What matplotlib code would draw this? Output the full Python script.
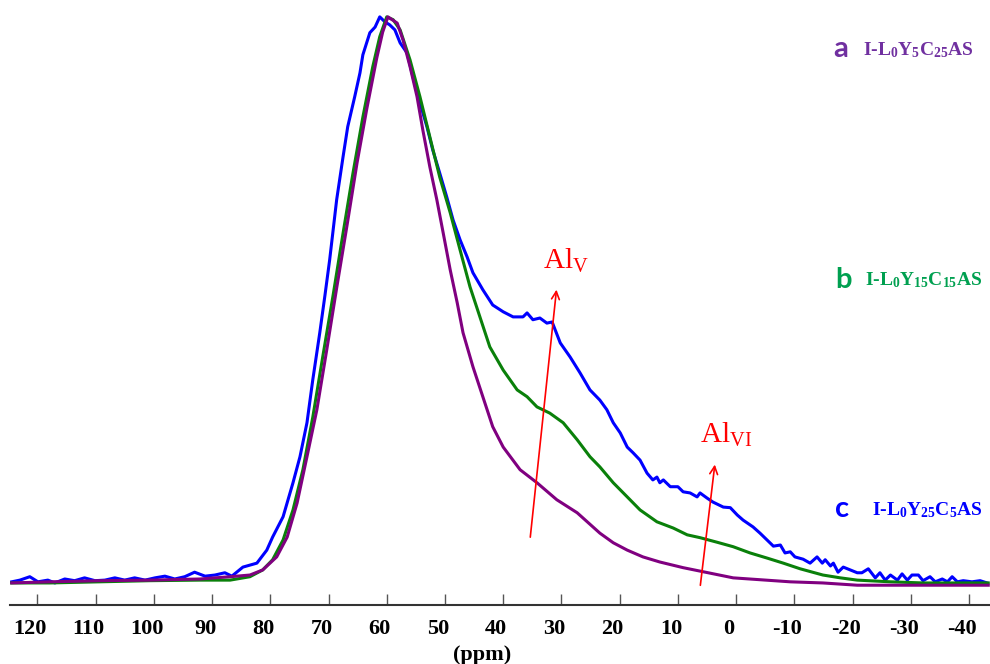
import numpy as np
import matplotlib
matplotlib.use("Agg")
import matplotlib.pyplot as plt
import matplotlib.transforms as mtransforms

# 27Al NMR spectra (ppm, normalised intensity %)
# c: I-L0Y25C5AS (blue)
ppm_c = [124.4, 123.0, 121.3, 119.9, 118.2, 117.0, 115.3, 113.6, 111.9, 110.1,
         108.4, 106.7, 105.0, 103.3, 101.5, 99.8, 98.1, 96.4, 94.7, 93.0,
         91.2, 89.5, 87.8, 86.6, 84.7, 82.3, 80.6, 79.6, 77.8, 76.1,
         74.9, 73.7, 72.7, 71.5, 70.6, 69.8, 68.6, 67.5, 66.7, 65.5,
         64.6, 64.1, 62.9, 62.0, 61.2, 60.3, 59.5, 58.6, 57.7, 56.5,
         55.5, 54.3, 53.1, 52.1, 50.9, 49.7, 48.6, 47.4, 46.2, 45.2,
         43.5, 41.8, 40.0, 38.3, 36.6, 35.9, 34.9, 33.7, 32.5, 31.6,
         30.2, 28.5, 26.8, 25.1,
         23.4, 22.2, 21.1, 19.9, 18.7, 17.7, 16.5, 15.3, 14.3, 13.6,
         13.1, 12.5, 11.3, 10.0, 9.1, 7.9, 6.7, 6.2, 5.0, 4.0,
         2.2, 1.0, -0.2, -1.2, -2.9, -4.1, -5.3, -6.4, -7.6, -8.4,
         -9.3, -10.1, -11.5, -12.7, -13.9, -14.8, -15.3, -16.2, -16.7, -17.5,
         -18.4, -19.6, -20.8, -21.6, -22.7, -23.9, -24.7, -25.6, -26.5, -27.7,
         -28.5, -29.4, -30.2, -31.3, -32.1, -33.3, -34.2, -35.4, -36.3, -37.1,
         -38.0, -39.0, -40.5, -41.9, -43.1]
int_c = [0.2, 0.5, 1.1, 0.2, 0.5, 0.0, 0.7, 0.4, 0.9, 0.4,
         0.5, 0.9, 0.5, 0.9, 0.5, 0.9, 1.2, 0.7, 1.1, 1.9,
         1.2, 1.4, 1.8, 1.2, 2.8, 3.5, 5.8, 8.1, 11.7, 17.7,
         22.3, 28.3, 35.9, 44.2, 50.9, 57.1, 67.7, 75.3, 80.6, 85.9,
         90.1, 93.3, 97.2, 98.2, 100.0, 99.1, 98.6, 97.7, 95.4, 93.6,
         89.4, 84.8, 80.6, 76.5, 72.4, 68.2, 64.1, 60.6, 57.6, 54.8,
         51.8, 49.1, 47.9, 47.0, 47.0, 47.7, 46.5, 46.8, 45.9, 46.1,
         42.4, 39.9, 37.1, 34.1,
         32.3, 30.6, 28.3, 26.5, 24.0, 23.0, 21.7, 19.4, 18.2, 18.7,
         17.7, 18.2, 17.0, 17.0, 16.1, 15.9, 15.2, 15.9, 15.0, 14.3,
         13.4, 13.3, 12.0, 11.1, 9.9, 8.8, 7.6, 6.5, 6.7, 5.3,
         5.5, 4.6, 4.2, 3.5, 4.6, 3.5, 4.1, 3.0, 3.5, 1.9,
         2.8, 2.3, 1.8, 1.8, 2.5, 0.9, 1.8, 0.5, 1.4, 0.5,
         1.6, 0.5, 1.4, 1.4, 0.4, 1.1, 0.2, 0.7, 0.2, 1.1,
         0.2, 0.4, 0.2, 0.4, 0.0]

# b: I-L0Y15C15AS (green)
ppm_b = [124.4, 117.9, 109.3, 100.7, 92.1, 86.9, 83.5, 81.3, 79.6, 77.8,
         76.1, 74.4, 72.7, 71.0, 69.2, 67.5, 65.8, 64.1, 62.4, 61.2,
         60.0, 58.9, 57.7, 56.0, 54.3, 52.6, 50.9, 49.1, 47.4, 45.7,
         44.0, 42.3, 40.0, 37.6, 35.9, 34.2, 32.0, 29.7, 27.3, 25.1,
         23.4, 21.1, 18.7, 16.5, 13.6, 10.8, 8.4, 6.2, 3.3, 0.5,
         -2.4, -5.3, -8.1, -11.0, -14.9, -17.9, -20.8, -26.5, -32.1, -43.3]
int_b = [0.0, 0.0, 0.2, 0.4, 0.5, 0.5, 1.1, 2.3, 4.1, 7.6,
         12.9, 20.0, 29.3, 39.9, 50.9, 61.8, 72.4, 82.3, 91.2, 96.5,
         100.0, 99.5, 97.7, 92.4, 85.9, 78.8, 71.7, 65.4, 58.8, 52.3,
         47.0, 41.7, 37.6, 34.1, 32.9, 31.1, 30.0, 28.3, 25.3, 22.3,
         20.5, 17.7, 15.2, 12.9, 10.8, 9.7, 8.5, 8.0, 7.2, 6.4,
         5.3, 4.4, 3.5, 2.5, 1.4, 0.9, 0.5, 0.2, 0.0, 0.0]

# a: I-L0Y5C25AS (purple)
ppm_a = [124.4, 117.9, 109.3, 100.7, 92.1, 86.9, 83.5, 81.3, 78.9, 77.1,
         75.4, 73.7, 72.0, 70.3, 68.6, 66.8, 65.1, 63.4, 61.7, 60.7,
         59.8, 58.2, 57.2, 56.0, 54.8, 53.8, 52.6, 51.4, 50.3, 49.1,
         47.9, 46.9, 45.2, 43.5, 41.8, 40.0, 37.1, 34.2, 30.8, 27.3,
         23.4, 21.1, 18.7, 16.0, 13.1, 9.1, 0.5, -9.3, -14.9, -20.8,
         -43.3]
int_a = [0.0, 0.2, 0.4, 0.5, 0.7, 1.1, 1.4, 2.3, 4.6, 8.1,
         14.1, 22.3, 30.6, 41.2, 52.1, 63.3, 74.2, 83.9, 92.8, 97.3,
         100.0, 98.9, 95.9, 91.2, 85.9, 80.0, 73.5, 67.7, 61.8, 55.3,
         49.5, 44.2, 38.2, 32.9, 27.6, 24.0, 20.0, 17.7, 14.7, 12.4,
         8.8, 7.1, 5.8, 4.6, 3.7, 2.7, 0.9, 0.2, 0.0, -0.4,
         -0.4]

xticks = [120, 110, 100, 90, 80, 70, 60, 50, 40, 30, 20, 10, 0, -10, -20, -30, -40]

plt.rcParams['mathtext.default'] = 'regular'

fig = plt.figure(figsize=(9.9, 6.64), dpi=100)
ax = fig.add_axes([0.0101, 0.0889, 0.9899, 0.9036])

ax.plot(ppm_c, int_c, color='#0000ff', lw=2.2)
ax.plot(ppm_b, int_b, color='#0a800a', lw=2.2)
ax.plot(ppm_a, int_a, color='#800080', lw=2.2)

ax.set_xlim(124.7, -43.6)
ax.set_ylim(-3.89, 102.1)
for s in ['left', 'right', 'top']:
    ax.spines[s].set_visible(False)
ax.spines['bottom'].set_linewidth(1.5)
ax.spines['bottom'].set_color('#333333')
ax.set_yticks([])
ax.set_xticks(xticks)
ax.set_xticklabels([str(t) for t in xticks], fontfamily='Liberation Serif',
                   fontweight='bold', fontsize=16)
ax.tick_params(axis='x', direction='in', length=8, width=1, pad=9, color='#555555')
# labels in the original sit a little left of their ticks
shift = mtransforms.ScaledTranslation(-0.07, -0.02, fig.dpi_scale_trans)
for lab in ax.get_xticklabels():
    lab.set_transform(lab.get_transform() + shift)
ax.set_xlabel('(ppm)', fontfamily='Liberation Serif', fontweight='bold', fontsize=16)
ax.xaxis.set_label_coords(0.4816, -0.066)

# sample labels
serif = dict(fontfamily='Liberation Serif', fontweight='bold', fontsize=14,
             va='baseline', transform=ax.transAxes)
sans = dict(fontfamily='Lato', fontweight='bold', fontsize=21,
            va='baseline', transform=ax.transAxes)
ax.text(0.8398, 0.913, 'a', color='#7030a0', **sans)
ax.text(0.8704, 0.9167, r'I-L$_{0}$Y$_{5}$C$_{25}$AS', color='#7030a0', **serif)
ax.text(0.8418, 0.528, 'b', color='#00a050', **sans)
ax.text(0.8724, 0.5333, r'I-L$_{0}$Y$_{15}$C$_{15}$AS', color='#00a050', **serif)
ax.text(0.8418, 0.1467, 'c', color='#0000ff', **sans)
ax.text(0.8796, 0.15, r'I-L$_{0}$Y$_{25}$C$_{5}$AS', color='#0000ff', **serif)

# Al coordination arrows
arrow = dict(arrowstyle='->', color='red', lw=1.2, mutation_scale=14)
ax.annotate('', xy=(30.8, 52.3), xytext=(35.4, 7.6), arrowprops=arrow)
ax.annotate('', xy=(3.6, 21.4), xytext=(6.2, -0.9), arrowprops=arrow)
ax.text(33.2, 55.5, r'Al$_{V}$', color='red', fontfamily='Liberation Serif',
        fontsize=21, ha='left', va='baseline')
ax.text(6.2, 24.7, r'Al$_{VI}$', color='red', fontfamily='Liberation Serif',
        fontsize=21, ha='left', va='baseline')

fig.savefig('out.png', dpi=100)
